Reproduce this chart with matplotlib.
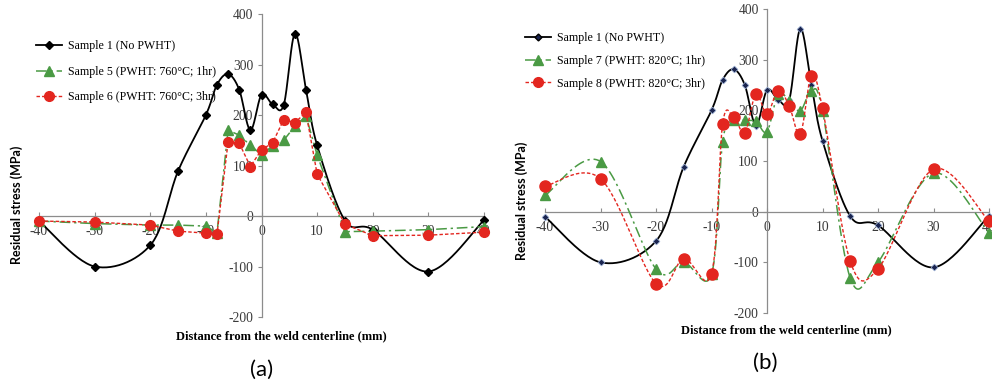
import numpy as np
import matplotlib
matplotlib.use("Agg")
import matplotlib.pyplot as plt
from matplotlib.lines import Line2D

plt.rcParams["axes.unicode_minus"] = False

# distance from weld centreline (mm)
x_pos = [-40, -30, -20, -15, -10, -8, -6, -4, -2, 0, 2, 4, 6, 8, 10, 15, 20, 30, 40]

# residual stress (MPa)
sample1 = [-10, -100, -58, 89, 200, 260, 281, 250, 170, 240, 221, 220, 361, 250, 140,
           -9, -27, -110, -8]
sample5 = [-10, -15, -18, -18, -20, -33, 170, 160, 140, 121, 139, 150, 178, 198, 121,
           -31, -30, -27, -21]
sample6 = [-10, -12, -18, -30, -34, -36, 147, 144, 98, 131, 145, 191, 185, 205, 83,
           -16, -39, -38, -32]
sample7 = [32, 99, -113, -100, -124, 138, 180, 180, 178, 158, 232, 219, 199, 239, 199,
           -131, -100, 76, -42]
sample8 = [50, 65, -142, -93, -123, 173, 186, 156, 232, 193, 239, 209, 153, 268, 204,
           -98, -113, 84, -19]

labels_a = ["Sample 1 (No PWHT)", "Sample 5 (PWHT: 760°C; 1hr)", "Sample 6 (PWHT: 760°C; 3hr)"]
labels_b = ["Sample 1 (No PWHT)", "Sample 7 (PWHT: 820°C; 1hr)", "Sample 8 (PWHT: 820°C; 3hr)"]

GREEN = "#4a9a44"
RED = "#e3261f"
SERIF = "Liberation Serif"
DASHDOT = (0, (7, 2.5, 1.5, 2.5))
DASH = (0, (2.5, 1.5))


def smooth(xs, ys, n=30):
    """Excel style smoothed line: bezier through the points."""
    p = np.column_stack([xs, ys]).astype(float)
    p = np.vstack([p[0], p, p[-1]])
    out = []
    t = np.linspace(0, 1, n)[:, None]
    for i in range(1, len(p) - 2):
        p0, p1, p2, p3 = p[i - 1], p[i], p[i + 1], p[i + 2]
        c1 = p1 + (p2 - p0) / 6
        c2 = p2 - (p3 - p1) / 6
        seg = ((1 - t)**3 * p1 + 3 * (1 - t)**2 * t * c1
               + 3 * (1 - t) * t**2 * c2 + t**3 * p2)
        out.append(seg)
    seg = np.vstack(out)
    return seg[:, 0], seg[:, 1]


def setup_axis(ax):
    ax.set_xlim(-40, 40)
    ax.set_ylim(-200, 400)
    for s in ["top", "right"]:
        ax.spines[s].set_visible(False)
    ax.spines["left"].set_position(("data", 0))
    ax.spines["bottom"].set_position(("data", 0))
    for s in ["left", "bottom"]:
        ax.spines[s].set_color("#8c8c8c")
        ax.spines[s].set_linewidth(0.9)
    ax.set_xticks(range(-40, 41, 10))
    ax.set_yticks(range(-200, 401, 100))
    ax.tick_params(axis="x", direction="in", length=3, pad=6.5, color="#8c8c8c",
                   labelsize=9.8, labelcolor="#3a3a3a")
    ax.tick_params(axis="y", direction="out", length=3, pad=3, color="#8c8c8c",
                   labelsize=9.8, labelcolor="#3a3a3a")
    for lab in ax.get_xticklabels() + ax.get_yticklabels():
        lab.set_fontfamily(SERIF)
    ax.patch.set_alpha(0)


fig = plt.figure(figsize=(9.92, 3.87), dpi=100)
ax_a = fig.add_axes([39 / 992, 1 - 317 / 387, 445 / 992, 303 / 387])
ax_b = fig.add_axes([545 / 992, 1 - 313 / 387, 444 / 992, 304 / 387])

# ---- panel (a)
sx, sy = smooth(x_pos, sample1)
ax_a.plot(sx, sy, color="black", lw=1.3, zorder=3, clip_on=False)
ax_a.plot(x_pos, sample1, "D", color="black", ms=4, zorder=4, clip_on=False)
ax_a.plot(x_pos, sample5, color=GREEN, lw=1.1, ls=DASHDOT, zorder=3, clip_on=False)
ax_a.plot(x_pos, sample5, "^", color=GREEN, ms=7, zorder=4, clip_on=False)
ax_a.plot(x_pos, sample6, color=RED, lw=1.0, ls=DASH, zorder=5, clip_on=False)
ax_a.plot(x_pos, sample6, "o", color=RED, ms=7, zorder=6, clip_on=False)
setup_axis(ax_a)

# ---- panel (b)
sx, sy = smooth(x_pos, sample1)
ax_b.plot(sx, sy, color="black", lw=1.3, zorder=3, clip_on=False)
ax_b.plot(x_pos, sample1, "D", color="#1b2550", mec="#9fb4d8", mew=0.5, ms=3.5,
          zorder=4, clip_on=False)
gx, gy = smooth(x_pos, sample7)
ax_b.plot(gx, gy, color=GREEN, lw=1.1, ls=DASHDOT, zorder=3, clip_on=False)
ax_b.plot(x_pos, sample7, "^", color=GREEN, ms=7, zorder=4, clip_on=False)
rx, ry = smooth(x_pos, sample8)
ax_b.plot(rx, ry, color=RED, lw=1.0, ls=DASH, zorder=5, clip_on=False)
ax_b.plot(x_pos, sample8, "o", color=RED, ms=8, zorder=6, clip_on=False)
setup_axis(ax_b)


# ---- legends
def handles(navy=False):
    return [
        Line2D([], [], color="black", lw=1.3, marker="D", ms=4 if not navy else 3.5,
               mfc="black" if not navy else "#1b2550"),
        Line2D([], [], color=GREEN, lw=1.1, ls=DASHDOT, marker="^", ms=7),
        Line2D([], [], color=RED, lw=1.0, ls=DASH, marker="o", ms=7),
    ]


leg_font = {"family": SERIF, "size": 8.6}
fig.legend(handles(), labels_a, loc="upper left", bbox_to_anchor=(36 / 992, 1 - 40 / 387),
           frameon=False, prop=leg_font, handlelength=2.2,
           handletextpad=0.5, labelspacing=1.15, borderpad=0, borderaxespad=0)
fig.legend(handles(True), labels_b, loc="upper left", bbox_to_anchor=(525 / 992, 1 - 32 / 387),
           frameon=False, prop=leg_font, handlelength=2.2,
           handletextpad=0.5, labelspacing=0.9, borderpad=0, borderaxespad=0)

# ---- axis titles
fig.text(17 / 992, 1 - 205 / 387, "Residual stress (MPa)", rotation=90, ha="center",
         va="center", family="Lato", weight="bold", size=9)
fig.text(522 / 992, 1 - 201 / 387, "Residual stress (MPa)", rotation=90, ha="center",
         va="center", family="Lato", weight="bold", size=9)
fig.text(281 / 992, 1 - 336 / 387, "Distance from the weld centerline (mm)", ha="center",
         va="center", family=SERIF, weight="bold", size=9)
fig.text(786 / 992, 1 - 330 / 387, "Distance from the weld centerline (mm)", ha="center",
         va="center", family=SERIF, weight="bold", size=9)

fig.text(262 / 992, 1 - 370 / 387, "(a)", ha="center", va="center", family="Lato", size=16)
fig.text(765 / 992, 1 - 363 / 387, "(b)", ha="center", va="center", family="Lato", size=16)

plt.savefig("out.png", dpi=100)
plt.close()
